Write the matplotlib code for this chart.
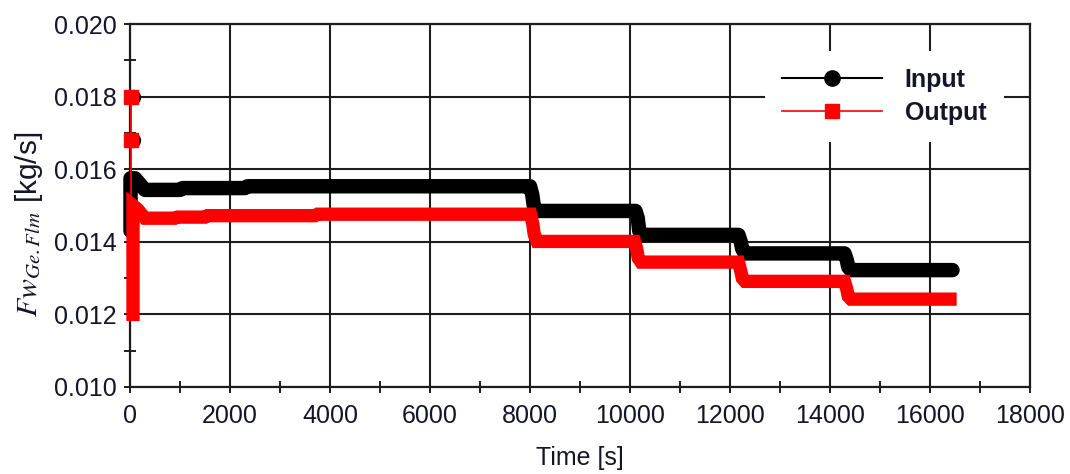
import matplotlib
matplotlib.use("Agg")
import matplotlib.pyplot as plt
from matplotlib.lines import Line2D
from matplotlib.ticker import MultipleLocator

# ---------------- data ----------------
# Input (black) main trace
in_t = [10, 10, 100, 300, 1000, 1050, 2300, 2350,
        8000, 8045, 8075, 8130,
        10110, 10155, 10185, 10240,
        12170, 12215, 12245, 12300,
        14290, 14335, 14365, 14420,
        16450]
in_v = [0.0143, 0.01575, 0.01575, 0.01543, 0.01543, 0.01548, 0.01548, 0.01553,
        0.01553, 0.01530, 0.01500, 0.01485,
        0.01485, 0.01465, 0.01430, 0.01419,
        0.01419, 0.01400, 0.01380, 0.01368,
        0.01368, 0.01350, 0.01330, 0.01322,
        0.01322]
# Input start-up spike points
in_spike_t = [60, 60]
in_spike_v = [0.0180, 0.0168]

# Output (red) main trace
out_t = [60, 60, 150, 300, 900, 950, 1500, 1550, 3700, 3750,
         8010, 8055, 8085, 8140,
         10090, 10135, 10165, 10220,
         12170, 12215, 12245, 12300,
         14290, 14335, 14365, 14420,
         16400]
out_v = [0.0120, 0.0150, 0.0149, 0.01465, 0.01465, 0.01468, 0.01468, 0.01472, 0.01472, 0.01476,
         0.01476, 0.01450, 0.01420, 0.01401,
         0.01401, 0.01380, 0.01355, 0.01344,
         0.01344, 0.01320, 0.01300, 0.01291,
         0.01291, 0.01270, 0.01250, 0.01242,
         0.01242]
# Output start-up spike
out_spike_t = [25, 25, 25]
out_spike_v = [0.0180, 0.0168, 0.0150]

series_labels = ["Input", "Output"]
x_label = "Time [s]"
y_label = r"$Fw_{Ge.Flm}$ [kg/s]"

# ---------------- style ----------------
plt.rcParams['font.family'] = ['Liberation Sans', 'DejaVu Sans']
plt.rcParams['mathtext.fontset'] = 'stix'

fig = plt.figure(figsize=(10.70, 4.74), dpi=100)
ax = fig.add_axes([130/1070, 1-387/474, 900/1070, 363/474])

txt_col = '#15152a'
grid_col = '#1e1e1e'

ax.plot(in_spike_t, in_spike_v, linestyle='none', marker='o', markersize=10,
        color='black', zorder=3, clip_on=False)
ax.plot(in_t, in_v, color='black', linewidth=10.4, solid_joinstyle='round',
        solid_capstyle='round', zorder=3, clip_on=False)
ax.plot(out_t, out_v, color='#ff0000', linewidth=9.6, solid_joinstyle='miter',
        solid_capstyle='projecting', zorder=4, clip_on=False)
ax.plot(out_spike_t, out_spike_v, color='#ff0000', linewidth=1.3, marker='s',
        markersize=9.5, markevery=[0, 1], zorder=4, clip_on=False)

ax.set_xlim(0, 18000)
ax.set_ylim(0.010, 0.020)
ax.xaxis.set_major_locator(MultipleLocator(2000))
ax.xaxis.set_minor_locator(MultipleLocator(1000))
ax.yaxis.set_major_locator(MultipleLocator(0.002))
ax.yaxis.set_minor_locator(MultipleLocator(0.001))
ax.yaxis.set_major_formatter(matplotlib.ticker.FormatStrFormatter('%.3f'))

ax.grid(True, which='major', color=grid_col, linewidth=1.5, zorder=1)
ax.set_axisbelow(True)
for s in ax.spines.values():
    s.set_linewidth(1.6)
    s.set_color(grid_col)

ax.tick_params(which='both', direction='inout', color=grid_col, width=1.4,
               labelsize=18, labelcolor=txt_col)
ax.tick_params(which='major', length=9)
ax.tick_params(which='minor', length=9)
ax.tick_params(axis='x', which='major', pad=8)
ax.tick_params(axis='y', which='major', pad=5)

ax.set_xlabel(x_label, fontsize=18, color=txt_col, labelpad=13)
ax.set_ylabel(y_label, fontsize=21.5, color=txt_col)
ax.yaxis.set_label_coords(-0.094, 0.449)

handles = [
    Line2D([], [], color='black', linewidth=1.5, marker='o', markersize=11),
    Line2D([], [], color='#ff0000', linewidth=1.2, marker='s', markersize=9.5),
]
leg = ax.legend(handles, series_labels, loc='center', bbox_to_anchor=(0.838, 0.80),
                frameon=True, fancybox=False, framealpha=1.0, facecolor='white',
                edgecolor='none', handlelength=4.0, handletextpad=0.9,
                labelspacing=0.35, borderpad=0.7,
                prop={'weight': 'bold', 'size': 18})
for t in leg.get_texts():
    t.set_color(txt_col)

fig.savefig('out.png', dpi=100)
